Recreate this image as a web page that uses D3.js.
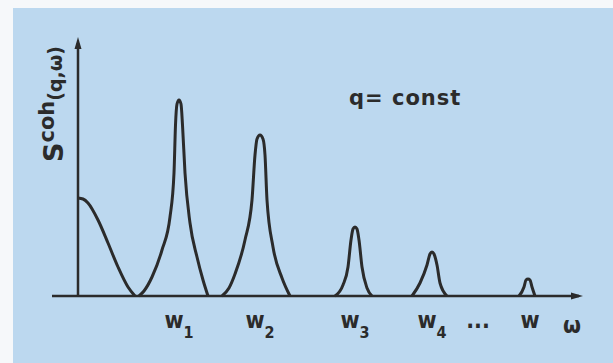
<!DOCTYPE html>
<html>
<head>
<meta charset="utf-8">
<script src="https://cdn.jsdelivr.net/npm/d3@7"></script>
<style>
  html, body { margin: 0; padding: 0; background: #f6f8fa; }
  svg { display: block; }
</style>
</head>
<body>
<svg id="chart" width="613" height="363"></svg>
<script>
// Coherent scattering function S(q, ω) at fixed q: a quasi-elastic
// part at ω = 0 followed by a sequence of excitation peaks w1 … w.
// Each profile is a list of [ω, S] points (arbitrary units).
const quasiElastic = [[0, 49], [1, 48.5], [2, 46.5], [4, 38], [6, 26.5], [8, 14.5], [10, 4.5], [11.4, 0]];

const peak1 = [[12.2, 0], [13.2, 2.5], [14.8, 9.5], [16.8, 23], [18.4, 39.5], [19.2, 61.5],
  [19.5, 85.5], [19.8, 96], [20.2, 98], [20.6, 96], [20.9, 85.5], [21.4, 61.5],
  [22.4, 36.5], [23.8, 19.5], [25, 8], [26, 0]];

const peak2 = [[28.8, 0], [30.2, 4], [31.4, 11], [33.4, 28], [34.8, 48], [35.4, 70.5],
  [35.8, 78.5], [36.4, 80.5], [37, 78.5], [37.4, 70.5], [37.8, 48], [39, 24.5],
  [40.8, 9], [42.4, 0]];

const peak3 = [[51.4, 0], [53, 5.5], [54, 14.5], [54.6, 28], [55, 33.5], [55.4, 34.5],
  [55.8, 33.5], [56.2, 28], [56.8, 14.5], [57.8, 4], [58.8, 0]];

const peak4 = [[66.8, 0], [68.4, 6.5], [69.8, 15.5], [70.4, 21], [70.8, 22], [71.2, 21],
  [71.8, 15.5], [72.4, 6.5], [73.8, 0]];

const peak5 = [[88.2, 0], [89.2, 4.5], [89.6, 8], [90, 8.5], [90.4, 8], [90.8, 4.5], [91.4, 0]];

const profiles = [quasiElastic, peak1, peak2, peak3, peak4, peak5];

// Labels under the ω axis: base letter, subscript, ω position
const tickNames = ["w", "w", "w", "w", "...", "w", "ω"];
const tickSubs  = ["1", "2", "3", "4", "", "", ""];
const tickAt    = [20.2, 36.4, 55.4, 70.8, 80, 90.4, 98.8];

const axisExtent = { omegaMin: -5.2, omegaMax: 101, sMax: 129.5 };

const svg = d3.select("#chart");
const ink = "#2b2b2b";

svg.append("rect")
  .attr("x", 13).attr("y", 8)
  .attr("width", 600).attr("height", 355)
  .attr("fill", "#bcd8ef");

const x = d3.scaleLinear().domain([0, 100]).range([78, 578]);
const y = d3.scaleLinear().domain([0, 100]).range([296, 96]);

// ω axis with arrow
svg.append("line")
  .attr("x1", x(axisExtent.omegaMin)).attr("x2", x(axisExtent.omegaMax) - 4)
  .attr("y1", y(0)).attr("y2", y(0))
  .attr("stroke", ink).attr("stroke-width", 2.5);
const xa = x(axisExtent.omegaMax), ya = y(0);
svg.append("path")
  .attr("d", `M${xa},${ya} L${xa - 12},${ya - 3.5} L${xa - 12},${ya + 3.5} Z`)
  .attr("fill", ink);

// S axis with arrow
svg.append("line")
  .attr("x1", x(0)).attr("x2", x(0))
  .attr("y1", y(0)).attr("y2", y(axisExtent.sMax) + 6)
  .attr("stroke", ink).attr("stroke-width", 2.5);
const xt = x(0), yt = y(axisExtent.sMax);
svg.append("path")
  .attr("d", `M${xt},${yt} L${xt - 3.5},${yt + 12} L${xt + 3.5},${yt + 12} Z`)
  .attr("fill", ink);

// spectral profiles
const line = d3.line()
  .x(d => x(d[0]))
  .y(d => y(d[1]))
  .curve(d3.curveMonotoneX);

svg.append("g")
  .selectAll("path")
  .data(profiles)
  .join("path")
  .attr("d", line)
  .attr("fill", "none")
  .attr("stroke", ink)
  .attr("stroke-width", 3)
  .attr("stroke-linejoin", "round");

// labels below the ω axis
const labelFont = "'DejaVu Sans Condensed', 'DejaVu Sans', sans-serif";
const ticks = svg.append("g")
  .attr("font-family", labelFont)
  .attr("font-weight", "bold")
  .attr("fill", ink);

tickNames.forEach((name, i) => {
  const t = ticks.append("text")
    .attr("x", x(tickAt[i]))
    .attr("y", name === "ω" ? 333 : 328)
    .attr("text-anchor", "middle")
    .attr("font-size", name === "ω" ? 23 : 23);
  t.append("tspan").text(name);
  if (tickSubs[i]) {
    t.append("tspan")
      .attr("dy", 10)
      .attr("font-size", 16)
      .text(tickSubs[i]);
  }
});

// annotation
svg.append("text")
  .attr("x", 349).attr("y", 105)
  .attr("font-family", "'DejaVu Sans', sans-serif")
  .attr("font-weight", "bold")
  .attr("font-size", 21)
  .attr("letter-spacing", 1)
  .attr("fill", ink)
  .text("q= const");

// S axis title
const yTitle = svg.append("text")
  .attr("transform", "translate(63,162) rotate(-90)")
  .attr("font-family", "'DejaVu Sans', sans-serif")
  .attr("font-weight", "bold")
  .attr("fill", ink);
yTitle.append("tspan").attr("font-size", 27).text("S");
yTitle.append("tspan").attr("font-size", 21).attr("dy", -9).text("coh");
yTitle.append("tspan").attr("font-size", 19).attr("dy", 8).text("(q,ω)");
</script>
</body>
</html>
